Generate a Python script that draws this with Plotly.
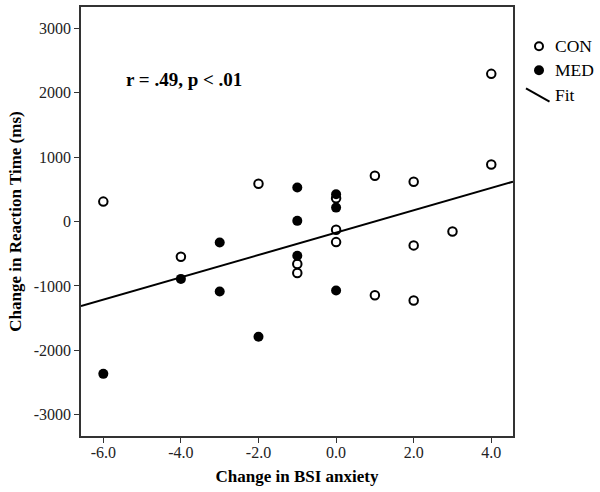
import plotly.graph_objects as go

# ---- data ----
con_x = [-6, -4, -2, -1, -1, 0, 0, 0, 1, 1, 2, 2, 2, 3, 4, 4]
con_y = [309, -546, 587, -660, -799, 360, -128, -320, 711, -1144, 618, -371, -1226, -155, 2292, 886]

med_x = [-6, -4, -3, -3, -2, -1, -1, -1, 0, 0, 0]
med_y = [-2365, -891, -325, -1087, -1788, 528, 10, -533, 422, 216, -1071]

fit_slope = 173.5
fit_intercept = -173

x_tickvals = [-6, -4, -2, 0, 2, 4]
x_ticktext = ["-6.0", "-4.0", "-2.0", "0.0", "2.0", "4.0"]
y_tickvals = [-3000, -2000, -1000, 0, 1000, 2000, 3000]
y_ticktext = ["-3000", "-2000", "-1000", "0", "1000", "2000", "3000"]

legend_labels = ["CON", "MED", "Fit"]
stat_text = "r = .49, p < .01"

x_range = [-6.575, 4.56]
y_range = [-3330, 3330]

FONT = "Liberation Serif, Times New Roman, serif"
AX = "#333333"

fig = go.Figure()

fig.add_trace(go.Scatter(
    x=x_range,
    y=[fit_slope * v + fit_intercept for v in x_range],
    mode="lines", line=dict(color="black", width=2),
    showlegend=False, hoverinfo="skip"))

fig.add_trace(go.Scatter(
    x=con_x, y=con_y, mode="markers", name="CON",
    marker=dict(symbol="circle-open", size=8.5, color="black",
                line=dict(width=2, color="black")),
    showlegend=False))

fig.add_trace(go.Scatter(
    x=med_x, y=med_y, mode="markers", name="MED",
    marker=dict(symbol="circle", size=10, color="black",
                line=dict(width=0)),
    showlegend=False))

axis_common = dict(
    showline=True, mirror=True, linecolor=AX, linewidth=1.5,
    ticks="outside", ticklen=5, tickwidth=1.2, tickcolor=AX,
    showgrid=False, zeroline=False,
    tickfont=dict(family=FONT, size=16, color="#222"),
)

fig.update_xaxes(range=x_range, tickvals=x_tickvals, ticktext=x_ticktext,
                 ticklabelstandoff=-4,
                 title=dict(text="<b>Change in BSI anxiety</b>",
                            font=dict(family=FONT, size=17, color="black"),
                            standoff=10),
                 **axis_common)
fig.update_yaxes(range=y_range, tickvals=y_tickvals, ticktext=y_ticktext,
                 title=dict(text="<b>Change in Reaction Time (ms)</b>",
                            font=dict(family=FONT, size=17, color="black"),
                            standoff=8),
                 **axis_common)

# manual legend
L, R, T, B = 81, 513, 5, 436
W, H = R - L, B - T
def px(x):
    return (x - L) / W
def py(y):
    return (B - y) / H

shapes = []
shapes.append(dict(type="circle", xref="paper", yref="paper",
                   xsizemode="pixel", ysizemode="pixel",
                   xanchor=px(539), yanchor=py(44.5),
                   x0=-4, x1=4, y0=-4, y1=4,
                   line=dict(color="black", width=2), fillcolor="rgba(0,0,0,0)"))
shapes.append(dict(type="circle", xref="paper", yref="paper",
                   xsizemode="pixel", ysizemode="pixel",
                   xanchor=px(539), yanchor=py(68.5),
                   x0=-5, x1=5, y0=-5, y1=5,
                   line=dict(color="black", width=0), fillcolor="black"))
shapes.append(dict(type="line", xref="paper", yref="paper",
                   x0=px(526), y0=py(86.7), x1=px(549.5), y1=py(100),
                   line=dict(color="black", width=2)))

annotations = []
for lab, yy in zip(legend_labels, [44.5, 68.5, 93]):
    annotations.append(dict(text=lab, xref="paper", yref="paper",
                            x=px(553), y=py(yy), xanchor="left", yanchor="middle",
                            showarrow=False,
                            font=dict(family=FONT, size=17.5, color="black")))
annotations.append(dict(text="<b>" + stat_text + "</b>", xref="paper", yref="paper",
                        x=px(183.5), y=py(77.5), xanchor="center", yanchor="middle",
                        showarrow=False,
                        font=dict(family=FONT, size=19, color="black")))

fig.update_layout(
    width=600, height=492,
    margin=dict(l=L, r=600 - R, t=T, b=492 - B),
    plot_bgcolor="white", paper_bgcolor="white",
    shapes=shapes, annotations=annotations,
    showlegend=False,
)

fig.write_html("out.html", config={"displayModeBar": False},
               post_script="document.body.style.margin='0';document.body.style.overflow='hidden';")
